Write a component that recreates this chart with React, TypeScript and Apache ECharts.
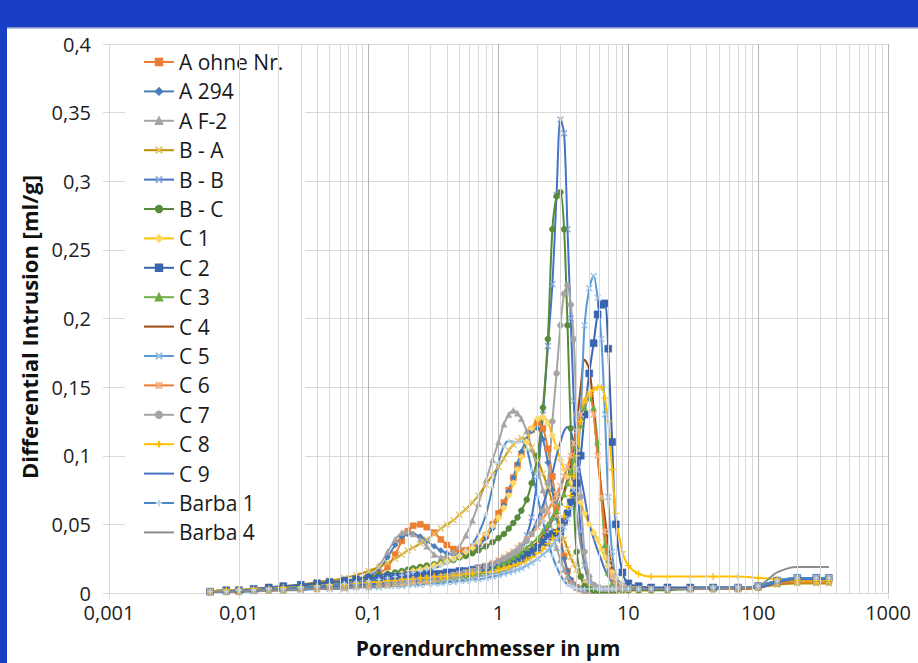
import React, { useEffect, useRef } from "react";
import * as echarts from "echarts";

// Pore diameter grid (µm) shared by all samples
const POREN_UM = [
  0.006, 0.008, 0.01, 0.013, 0.017, 0.022, 0.03, 0.04, 0.05, 0.065,
  0.08, 0.1, 0.12, 0.14, 0.16, 0.18, 0.2, 0.22, 0.25, 0.28,
  0.32, 0.36, 0.4, 0.45, 0.5, 0.56, 0.63, 0.7, 0.8, 0.9,
  1.0, 1.1, 1.2, 1.3, 1.4, 1.5, 1.65, 1.8, 2.0, 2.2,
  2.4, 2.6, 2.8, 3.0, 3.2, 3.4, 3.6, 3.8, 4.0, 4.3,
  4.6, 5.0, 5.4, 5.8, 6.2, 6.6, 7.0, 7.5, 8.0, 9.0,
  10, 12, 15, 20, 30, 45, 70, 100, 140, 200,
  280, 350,
];

// Differential intrusion (ml/g) per sample
const A_OHNE_NR = [
  0.001, 0.001, 0.002, 0.002, 0.003, 0.003, 0.004, 0.005, 0.006, 0.007,
  0.009, 0.011, 0.014, 0.019, 0.028, 0.038, 0.045, 0.049, 0.05, 0.048,
  0.044, 0.039, 0.035, 0.032, 0.031, 0.031, 0.033, 0.036, 0.042, 0.05,
  0.058, 0.066, 0.075, 0.084, 0.093, 0.101, 0.111, 0.119, 0.124, 0.12,
  0.105, 0.085, 0.062, 0.042, 0.027, 0.016, 0.009, 0.006, 0.004, 0.003,
  0.002, 0.002, 0.002, 0.002, 0.002, 0.002, 0.003, 0.003, 0.003, 0.003,
  0.003, 0.003, 0.003, 0.003, 0.003, 0.003, 0.003, 0.004, 0.007, 0.009,
  0.009, 0.009,
];
const A_294 = [
  0.001, 0.001, 0.002, 0.002, 0.003, 0.003, 0.004, 0.005, 0.006, 0.007,
  0.009, 0.012, 0.017, 0.026, 0.035, 0.041, 0.043, 0.043, 0.041, 0.038,
  0.034, 0.031, 0.029, 0.028, 0.028, 0.029, 0.031, 0.034, 0.04, 0.047,
  0.055, 0.064, 0.074, 0.084, 0.094, 0.103, 0.112, 0.118, 0.12, 0.112,
  0.095, 0.075, 0.055, 0.038, 0.025, 0.016, 0.01, 0.006, 0.004, 0.003,
  0.002, 0.002, 0.002, 0.002, 0.002, 0.002, 0.002, 0.003, 0.003, 0.003,
  0.003, 0.003, 0.003, 0.003, 0.004, 0.004, 0.004, 0.005, 0.009, 0.011,
  0.011, 0.011,
];
const A_F2 = [
  0.001, 0.001, 0.002, 0.002, 0.003, 0.003, 0.004, 0.005, 0.006, 0.008,
  0.01, 0.014, 0.02, 0.03, 0.039, 0.044, 0.045, 0.043, 0.039, 0.034,
  0.028, 0.026, 0.027, 0.03, 0.034, 0.042, 0.053, 0.065, 0.082, 0.097,
  0.11, 0.123, 0.13, 0.133, 0.131, 0.127, 0.118, 0.105, 0.09, 0.075,
  0.06, 0.045, 0.033, 0.024, 0.017, 0.012, 0.008, 0.006, 0.004, 0.003,
  0.002, 0.002, 0.002, 0.002, 0.002, 0.002, 0.002, 0.002, 0.002, 0.003,
  0.003, 0.003, 0.003, 0.003, 0.003, 0.004, 0.004, 0.005, 0.008, 0.01,
  0.01, 0.01,
];
const B_A = [
  0.001, 0.002, 0.002, 0.003, 0.004, 0.005, 0.006, 0.008, 0.009, 0.011,
  0.013, 0.016, 0.019, 0.022, 0.025, 0.028, 0.031, 0.033, 0.036, 0.039,
  0.043, 0.047, 0.05, 0.053, 0.057, 0.061, 0.066, 0.071, 0.079, 0.086,
  0.092, 0.098, 0.104, 0.108, 0.111, 0.113, 0.111, 0.106, 0.097, 0.087,
  0.077, 0.066, 0.056, 0.047, 0.039, 0.032, 0.026, 0.021, 0.017, 0.012,
  0.009, 0.006, 0.004, 0.003, 0.003, 0.002, 0.002, 0.002, 0.002, 0.002,
  0.002, 0.002, 0.002, 0.003, 0.003, 0.003, 0.003, 0.004, 0.006, 0.007,
  0.007, 0.007,
];
const B_B = [
  0.001, 0.001, 0.001, 0.002, 0.002, 0.003, 0.003, 0.004, 0.004, 0.005,
  0.005, 0.006, 0.006, 0.007, 0.007, 0.008, 0.008, 0.009, 0.009, 0.01,
  0.01, 0.011, 0.011, 0.012, 0.012, 0.013, 0.014, 0.015, 0.016, 0.018,
  0.02, 0.022, 0.024, 0.027, 0.03, 0.034, 0.042, 0.055, 0.085, 0.13,
  0.18, 0.225, 0.29, 0.345, 0.335, 0.265, 0.2, 0.14, 0.09, 0.045,
  0.02, 0.008, 0.005, 0.004, 0.003, 0.003, 0.003, 0.003, 0.003, 0.003,
  0.003, 0.003, 0.003, 0.003, 0.003, 0.004, 0.004, 0.005, 0.008, 0.01,
  0.01, 0.01,
];
const B_C = [
  0.001, 0.002, 0.002, 0.003, 0.003, 0.004, 0.005, 0.006, 0.007, 0.008,
  0.01, 0.012, 0.013, 0.014, 0.015, 0.016, 0.017, 0.018, 0.019, 0.02,
  0.021, 0.022, 0.023, 0.024, 0.026, 0.027, 0.029, 0.031, 0.034, 0.037,
  0.04, 0.043, 0.047, 0.051, 0.055, 0.06, 0.068, 0.08, 0.1, 0.135,
  0.185, 0.265, 0.289, 0.292, 0.265, 0.195, 0.12, 0.065, 0.03, 0.012,
  0.005, 0.003, 0.002, 0.002, 0.002, 0.002, 0.002, 0.002, 0.002, 0.002,
  0.002, 0.002, 0.002, 0.002, 0.003, 0.003, 0.003, 0.004, 0.007, 0.008,
  0.008, 0.008,
];
const C_1 = [
  0.001, 0.001, 0.002, 0.002, 0.003, 0.003, 0.004, 0.005, 0.006, 0.007,
  0.008, 0.01, 0.011, 0.012, 0.013, 0.014, 0.015, 0.016, 0.017, 0.018,
  0.02, 0.021, 0.023, 0.025, 0.027, 0.03, 0.033, 0.037, 0.043, 0.049,
  0.055, 0.062, 0.071, 0.08, 0.09, 0.099, 0.11, 0.12, 0.127, 0.128,
  0.124, 0.115, 0.106, 0.097, 0.09, 0.085, 0.08, 0.076, 0.072, 0.066,
  0.058, 0.05, 0.044, 0.039, 0.032, 0.026, 0.02, 0.015, 0.011, 0.007,
  0.005, 0.004, 0.003, 0.003, 0.003, 0.003, 0.003, 0.004, 0.007, 0.008,
  0.008, 0.008,
];
const C_2 = [
  0.001, 0.002, 0.002, 0.003, 0.004, 0.005, 0.006, 0.007, 0.008, 0.009,
  0.01, 0.011, 0.011, 0.012, 0.012, 0.012, 0.013, 0.013, 0.013, 0.014,
  0.014, 0.014, 0.015, 0.015, 0.016, 0.016, 0.017, 0.018, 0.019, 0.02,
  0.021, 0.022, 0.023, 0.024, 0.025, 0.026, 0.028, 0.03, 0.033, 0.037,
  0.041, 0.043, 0.044, 0.045, 0.052, 0.058, 0.066, 0.073, 0.08, 0.1,
  0.13, 0.16, 0.182, 0.203, 0.21, 0.211, 0.178, 0.11, 0.05, 0.015,
  0.007, 0.005, 0.004, 0.004, 0.004, 0.004, 0.004, 0.005, 0.009, 0.011,
  0.011, 0.011,
];
const C_3 = [
  0.001, 0.001, 0.001, 0.002, 0.002, 0.002, 0.003, 0.003, 0.004, 0.004,
  0.005, 0.005, 0.006, 0.006, 0.007, 0.007, 0.008, 0.008, 0.009, 0.009,
  0.01, 0.01, 0.011, 0.012, 0.012, 0.013, 0.014, 0.015, 0.016, 0.018,
  0.02, 0.022, 0.024, 0.026, 0.028, 0.03, 0.033, 0.036, 0.04, 0.045,
  0.05, 0.055, 0.06, 0.066, 0.072, 0.08, 0.088, 0.097, 0.107, 0.122,
  0.135, 0.142, 0.135, 0.11, 0.07, 0.035, 0.015, 0.007, 0.004, 0.003,
  0.003, 0.003, 0.003, 0.003, 0.003, 0.003, 0.003, 0.004, 0.007, 0.008,
  0.008, 0.008,
];
const C_4 = [
  0.001, 0.001, 0.001, 0.002, 0.002, 0.002, 0.003, 0.003, 0.003, 0.004,
  0.004, 0.005, 0.005, 0.006, 0.006, 0.007, 0.007, 0.008, 0.008, 0.009,
  0.009, 0.01, 0.01, 0.011, 0.012, 0.012, 0.013, 0.014, 0.015, 0.017,
  0.018, 0.02, 0.021, 0.023, 0.025, 0.027, 0.03, 0.033, 0.037, 0.042,
  0.047, 0.053, 0.059, 0.066, 0.074, 0.083, 0.094, 0.107, 0.123, 0.15,
  0.17, 0.163, 0.135, 0.1, 0.075, 0.055, 0.035, 0.018, 0.009, 0.005,
  0.003, 0.003, 0.003, 0.003, 0.003, 0.003, 0.003, 0.004, 0.007, 0.008,
  0.008, 0.008,
];
const C_5 = [
  0.001, 0.001, 0.001, 0.001, 0.002, 0.002, 0.002, 0.003, 0.003, 0.003,
  0.004, 0.004, 0.004, 0.005, 0.005, 0.005, 0.006, 0.006, 0.006, 0.007,
  0.007, 0.007, 0.008, 0.008, 0.009, 0.009, 0.01, 0.01, 0.011, 0.012,
  0.013, 0.014, 0.015, 0.016, 0.017, 0.018, 0.02, 0.022, 0.025, 0.028,
  0.031, 0.035, 0.039, 0.043, 0.048, 0.054, 0.062, 0.075, 0.09, 0.13,
  0.195, 0.222, 0.231, 0.215, 0.185, 0.13, 0.07, 0.03, 0.012, 0.006,
  0.004, 0.003, 0.003, 0.003, 0.003, 0.003, 0.004, 0.005, 0.009, 0.011,
  0.011, 0.011,
];
const C_6 = [
  0.001, 0.001, 0.001, 0.002, 0.002, 0.002, 0.003, 0.003, 0.004, 0.004,
  0.005, 0.005, 0.006, 0.006, 0.007, 0.007, 0.008, 0.008, 0.009, 0.009,
  0.01, 0.011, 0.012, 0.013, 0.014, 0.015, 0.016, 0.018, 0.02, 0.022,
  0.024, 0.026, 0.028, 0.03, 0.033, 0.035, 0.039, 0.043, 0.048, 0.054,
  0.06, 0.066, 0.072, 0.078, 0.085, 0.092, 0.1, 0.109, 0.118, 0.13,
  0.14, 0.145, 0.13, 0.1, 0.07, 0.045, 0.025, 0.012, 0.006, 0.004,
  0.003, 0.003, 0.003, 0.003, 0.003, 0.003, 0.003, 0.004, 0.007, 0.008,
  0.008, 0.008,
];
const C_7 = [
  0.001, 0.001, 0.002, 0.002, 0.002, 0.003, 0.003, 0.004, 0.005, 0.005,
  0.006, 0.007, 0.007, 0.008, 0.008, 0.009, 0.009, 0.01, 0.01, 0.011,
  0.011, 0.012, 0.012, 0.013, 0.014, 0.015, 0.016, 0.017, 0.019, 0.021,
  0.023, 0.025, 0.027, 0.029, 0.031, 0.034, 0.038, 0.043, 0.05, 0.06,
  0.08, 0.125, 0.16, 0.195, 0.218, 0.224, 0.21, 0.185, 0.13, 0.07,
  0.03, 0.012, 0.006, 0.004, 0.003, 0.003, 0.003, 0.003, 0.003, 0.003,
  0.003, 0.003, 0.003, 0.003, 0.003, 0.004, 0.004, 0.005, 0.009, 0.011,
  0.011, 0.011,
];
const C_8 = [
  0.001, 0.002, 0.002, 0.003, 0.003, 0.004, 0.004, 0.005, 0.006, 0.006,
  0.007, 0.008, 0.008, 0.009, 0.009, 0.01, 0.01, 0.01, 0.011, 0.011,
  0.012, 0.012, 0.012, 0.013, 0.013, 0.014, 0.014, 0.015, 0.015, 0.016,
  0.017, 0.018, 0.019, 0.02, 0.021, 0.022, 0.024, 0.026, 0.029, 0.032,
  0.036, 0.04, 0.045, 0.05, 0.056, 0.063, 0.071, 0.085, 0.1, 0.125,
  0.14, 0.145, 0.148, 0.15, 0.15, 0.142, 0.125, 0.09, 0.058, 0.03,
  0.02, 0.014, 0.012, 0.012, 0.012, 0.012, 0.012, 0.011, 0.01, 0.009,
  0.009, 0.009,
];
const C_9 = [
  0.001, 0.001, 0.002, 0.002, 0.003, 0.003, 0.004, 0.004, 0.005, 0.005,
  0.006, 0.006, 0.007, 0.007, 0.008, 0.008, 0.009, 0.009, 0.009, 0.01,
  0.01, 0.011, 0.011, 0.012, 0.012, 0.013, 0.014, 0.015, 0.016, 0.018,
  0.02, 0.022, 0.024, 0.027, 0.03, 0.033, 0.038, 0.044, 0.054, 0.064,
  0.075, 0.087, 0.1, 0.11, 0.118, 0.121, 0.118, 0.11, 0.1, 0.085,
  0.07, 0.05, 0.04, 0.031, 0.024, 0.017, 0.012, 0.008, 0.006, 0.004,
  0.003, 0.003, 0.003, 0.003, 0.003, 0.003, 0.004, 0.004, 0.008, 0.01,
  0.01, 0.01,
];
const BARBA_1 = [
  0.001, 0.001, 0.002, 0.002, 0.003, 0.003, 0.004, 0.005, 0.006, 0.007,
  0.008, 0.009, 0.01, 0.011, 0.012, 0.013, 0.014, 0.015, 0.016, 0.017,
  0.018, 0.02, 0.022, 0.024, 0.027, 0.031, 0.036, 0.043, 0.057, 0.077,
  0.095, 0.107, 0.111, 0.11, 0.11, 0.111, 0.105, 0.09, 0.07, 0.052,
  0.038, 0.027, 0.019, 0.013, 0.009, 0.006, 0.005, 0.004, 0.003, 0.003,
  0.003, 0.003, 0.003, 0.003, 0.003, 0.003, 0.003, 0.003, 0.003, 0.003,
  0.003, 0.003, 0.003, 0.003, 0.003, 0.004, 0.004, 0.005, 0.009, 0.011,
  0.011, 0.011,
];
const BARBA_4 = [
  0.001, 0.001, 0.001, 0.002, 0.002, 0.002, 0.003, 0.003, 0.003, 0.004,
  0.004, 0.005, 0.005, 0.005, 0.006, 0.006, 0.006, 0.007, 0.007, 0.007,
  0.008, 0.008, 0.009, 0.009, 0.01, 0.01, 0.011, 0.012, 0.013, 0.014,
  0.015, 0.016, 0.017, 0.019, 0.02, 0.022, 0.025, 0.028, 0.033, 0.039,
  0.046, 0.055, 0.065, 0.075, 0.085, 0.09, 0.087, 0.075, 0.058, 0.035,
  0.02, 0.01, 0.006, 0.004, 0.004, 0.003, 0.003, 0.003, 0.003, 0.003,
  0.003, 0.003, 0.003, 0.003, 0.003, 0.003, 0.004, 0.005, 0.015, 0.019,
  0.019, 0.019,
];

// Marker shapes drawn as strokes
const CROSS = "path://M0,0L10,10M10,0L0,10";
const PLUS = "path://M5,0L5,10M0,5L10,5";
const STAR = "path://M0,0L10,10M10,0L0,10M5,0L5,10";

type SampleDef = {
  name: string;
  values: number[];
  line: string;
  marker: string;
  symbol: string;
  size: number;
};

const SAMPLES: SampleDef[] = [
  { name: "A ohne Nr.", values: A_OHNE_NR, line: "#ED7D31", marker: "#ED7D31", symbol: "rect", size: 6 },
  { name: "A 294", values: A_294, line: "#4A7EBB", marker: "#4A7EBB", symbol: "diamond", size: 6 },
  { name: "A F-2", values: A_F2, line: "#A5A5A5", marker: "#A5A5A5", symbol: "triangle", size: 6 },
  { name: "B - A", values: B_A, line: "#BF9000", marker: "#E6C466", symbol: CROSS, size: 6 },
  { name: "B - B", values: B_B, line: "#4472C4", marker: "#8FAADC", symbol: CROSS, size: 6 },
  { name: "B - C", values: B_C, line: "#578A3A", marker: "#578A3A", symbol: "circle", size: 6 },
  { name: "C 1", values: C_1, line: "#FFC000", marker: "#FFD966", symbol: "diamond", size: 7 },
  { name: "C 2", values: C_2, line: "#3A64B0", marker: "#3A64B0", symbol: "rect", size: 7 },
  { name: "C 3", values: C_3, line: "#70AD47", marker: "#70AD47", symbol: "triangle", size: 6 },
  { name: "C 4", values: C_4, line: "#9E480E", marker: "#9E480E", symbol: "none", size: 0 },
  { name: "C 5", values: C_5, line: "#5B9BD5", marker: "#9DC3E6", symbol: CROSS, size: 6 },
  { name: "C 6", values: C_6, line: "#ED7D31", marker: "#F4B183", symbol: STAR, size: 6 },
  { name: "C 7", values: C_7, line: "#A5A5A5", marker: "#A5A5A5", symbol: "circle", size: 6 },
  { name: "C 8", values: C_8, line: "#FFC000", marker: "#FFC000", symbol: PLUS, size: 7 },
  { name: "C 9", values: C_9, line: "#4472C4", marker: "#4472C4", symbol: "none", size: 0 },
  { name: "Barba 1", values: BARBA_1, line: "#4A86C5", marker: "#BDD7EE", symbol: PLUS, size: 5 },
  { name: "Barba 4", values: BARBA_4, line: "#8C8C8C", marker: "#8C8C8C", symbol: "none", size: 0 },
];

// Minor log gridlines (2..9 within each decade)
const MINOR_GRID: number[] = [];
for (let e = -3; e < 3; e++) {
  for (let m = 2; m <= 9; m++) MINOR_GRID.push(Number((m * Math.pow(10, e)).toPrecision(3)));
}

const FONT = '"Open Sans", "Segoe UI", sans-serif';
const FRAME_BLUE = "#193FC4";

const commaNum = (v: number) => String(Number(Number(v).toPrecision(6))).replace(".", ",");

export default function App() {
  const ref = useRef<HTMLDivElement>(null);

  useEffect(() => {
    if (!ref.current) return;
    const chart = echarts.init(ref.current, undefined, { renderer: "svg" });

    const series: any[] = SAMPLES.map((s) => {
      const isPath = s.symbol.startsWith("path://");
      const noMarker = s.symbol === "none";
      return {
        type: "line",
        name: s.name,
        data: POREN_UM.map((x, i) => [x, s.values[i]]),
        smooth: 0.3,
        symbol: s.symbol,
        symbolSize: s.size,
        showSymbol: !noMarker,
        showAllSymbol: true,
        color: s.line,
        lineStyle: { color: s.line, width: 2 },
        itemStyle: noMarker
          ? { color: "rgba(0,0,0,0)", borderWidth: 0 }
          : {
              color: s.marker,
              borderColor: s.marker,
              borderWidth: isPath ? 1.3 : 0.5,
            },
        emphasis: { disabled: true },
        z: 3,
      };
    });

    series.unshift({
      type: "line",
      name: "minor-grid",
      data: [],
      silent: true,
      z: 1,
      markLine: {
        silent: true,
        symbol: ["none", "none"],
        label: { show: false },
        lineStyle: { color: "#d9d9d9", width: 1, type: "solid" },
        data: MINOR_GRID.map((v) => ({ xAxis: v })),
        animation: false,
      },
    });

    chart.setOption({
      animation: false,
      backgroundColor: "#ffffff",
      grid: { left: 109, right: 30, top: 44, bottom: 70, containLabel: false },
      xAxis: {
        type: "log",
        logBase: 10,
        min: 0.001,
        max: 1000,
        axisLine: { show: true, lineStyle: { color: "#d9d9d9", width: 1 } },
        axisTick: { show: true, length: 6, lineStyle: { color: "#d9d9d9" } },
        axisLabel: {
          fontSize: 20,
          lineHeight: 20,
          fontFamily: FONT,
          color: "#1f1f1f",
          margin: 9,
          formatter: (v: number) => commaNum(v),
        },
        splitLine: { show: true, lineStyle: { color: "#b5b5b5", width: 1 } },
        minorTick: { show: false },
        minorSplitLine: { show: false },
      },
      yAxis: {
        type: "value",
        min: 0,
        max: 0.4,
        interval: 0.05,
        axisLine: { show: true, lineStyle: { color: "#d9d9d9", width: 1 } },
        axisTick: { show: true, length: 6, lineStyle: { color: "#d9d9d9" } },
        axisLabel: {
          fontSize: 20,
          lineHeight: 16,
          fontFamily: FONT,
          color: "#1f1f1f",
          margin: 18,
          formatter: (v: number) => commaNum(v),
        },
        splitLine: { show: true, lineStyle: { color: "#d9d9d9", width: 1 } },
      },
      legend: {
        orient: "vertical",
        left: 125,
        top: 46,
        padding: [4, 22, 2, 18],
        backgroundColor: "#ffffff",
        itemWidth: 30,
        itemHeight: 8,
        itemGap: 5.4,
        selectedMode: false,
        data: SAMPLES.map((s) => s.name),
        textStyle: { fontSize: 21, fontFamily: FONT, color: "#1a1a1a", lineHeight: 24 },
      },
      series,
      graphic: [
        { type: "rect", shape: { x: 0, y: 0, width: 918, height: 27 }, style: { fill: FRAME_BLUE }, z: 10 },
        { type: "rect", shape: { x: 0, y: 27, width: 918, height: 1.5 }, style: { fill: "#8391CC" }, z: 10 },
        { type: "rect", shape: { x: 0, y: 0, width: 7, height: 663 }, style: { fill: FRAME_BLUE }, z: 10 },
        {
          type: "text",
          x: 29,
          y: 327,
          rotation: Math.PI / 2,
          style: {
            text: "Differential Intrusion [ml/g]",
            fontSize: 22,
            fontWeight: "bold",
            fontFamily: FONT,
            fill: "#111111",
            align: "center",
            verticalAlign: "middle",
          },
        },
        {
          type: "text",
          x: 488,
          y: 648,
          style: {
            text: "Porendurchmesser in µm",
            fontSize: 21,
            fontWeight: "bold",
            fontFamily: FONT,
            fill: "#111111",
            align: "center",
            verticalAlign: "middle",
          },
        },
      ],
    });

    return () => chart.dispose();
  }, []);

  return (
    <div
      ref={ref}
      style={{ position: "fixed", left: 0, top: 0, width: 918, height: 663, background: "#ffffff" }}
    />
  );
}
